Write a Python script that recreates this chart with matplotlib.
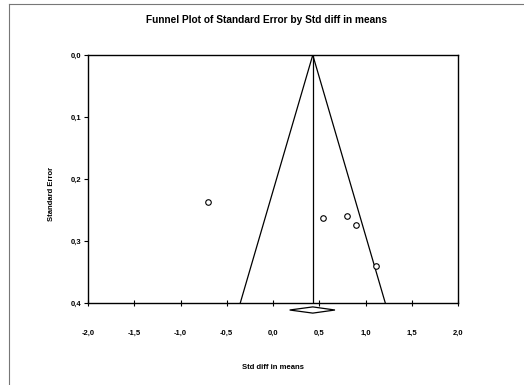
import matplotlib
matplotlib.use("Agg")
import matplotlib.pyplot as plt
import numpy as np

plt.rcParams['font.family'] = ['Liberation Sans', 'DejaVu Sans']

# Study data
effects = [-0.70, 0.54, 0.80, 0.90, 1.11]
std_errors = [0.237, 0.263, 0.260, 0.274, 0.340]
pooled_effect = 0.43
pooled_ci = [0.18, 0.67]
se_max = 0.4
x_ticks = [-2.0, -1.5, -1.0, -0.5, 0.0, 0.5, 1.0, 1.5, 2.0]
y_ticks = [0.0, 0.1, 0.2, 0.3, 0.4]

def comma(v):
    return f"{v:.1f}".replace(".", ",")

fig = plt.figure(figsize=(5.24, 3.85), dpi=100)
ax = fig.add_axes([88/524, 1-303/385, 370/524, 248/385])

# funnel
ax.plot([pooled_effect - 1.96*se_max, pooled_effect, pooled_effect + 1.96*se_max],
        [se_max, 0, se_max], color='black', lw=0.9)
ax.plot([pooled_effect, pooled_effect], [0, se_max], color='black', lw=0.9)

# points
ax.scatter(effects, std_errors, s=16, facecolors='white', edgecolors='black',
           linewidths=0.8, zorder=3)

# diamond (below the axis)
yc = se_max + 0.0113
hh = 0.005
ax.fill([pooled_ci[0], pooled_effect, pooled_ci[1], pooled_effect],
        [yc, yc - hh, yc, yc + hh], facecolor='white', edgecolor='black',
        lw=0.9, clip_on=False, zorder=4)

ax.set_xlim(-2, 2)
ax.set_ylim(se_max, 0)
ax.set_xticks(x_ticks)
ax.set_xticklabels([comma(v) for v in x_ticks], fontsize=5.5, fontweight='bold')
ax.set_yticks(y_ticks)
ax.set_yticklabels([comma(v) for v in y_ticks], fontsize=5.5, fontweight='bold')
ax.tick_params(axis='x', direction='inout', length=4, width=0.8, pad=17)
ax.tick_params(axis='y', direction='out', length=3, width=0.8, pad=2)
for s in ax.spines.values():
    s.set_linewidth(1.0)

ax.set_xlabel("Std diff in means", fontsize=5.5, fontweight='bold')
ax.xaxis.set_label_coords(0.5, -0.245)
ax.set_ylabel("Standard Error", fontsize=5.5, fontweight='bold')
ax.yaxis.set_label_coords(-0.089, 0.44)

fig.text(267/524, 1-20/385, "Funnel Plot of Standard Error by Std diff in means",
         ha='center', va='center', fontsize=7.3, fontweight='bold')

# partial figure border
fig.add_artist(plt.Line2D([9/524, 1], [1-4/385, 1-4/385], color='#777777', lw=0.8))
fig.add_artist(plt.Line2D([9/524, 9/524], [0, 1-4/385], color='#777777', lw=0.8))

fig.savefig("out.png", dpi=100)
